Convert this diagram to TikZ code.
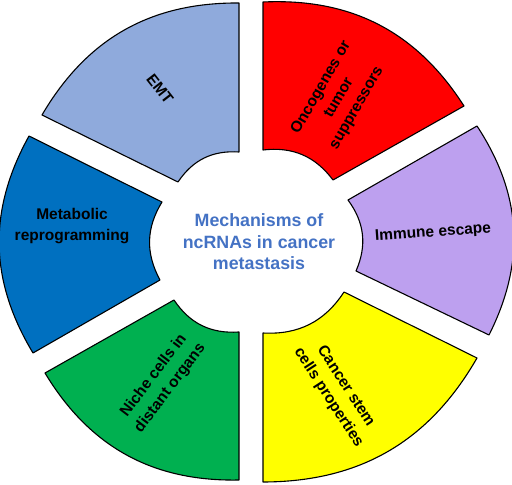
\documentclass[tikz,border=0pt]{standalone}
\usepackage{fontspec}
\setmainfont{Liberation Sans}
\definecolor{emtblue}{RGB}{143,170,220}
\definecolor{oncored}{RGB}{255,0,0}
\definecolor{immunepurple}{RGB}{189,160,239}
\definecolor{stemyellow}{RGB}{255,255,0}
\definecolor{nichegreen}{RGB}{0,176,80}
\definecolor{metablue}{RGB}{0,112,192}
\definecolor{titleblue}{RGB}{68,114,196}
\begin{document}
\begin{tikzpicture}[x=1pt, y=1pt,
    seg/.style={draw=black, line width=1.1pt, line join=round},
    lab/.style={font=\bfseries\fontsize{15.5}{20.5}\selectfont, align=center, text=black}]
    \useasboundingbox (0,0) rectangle (512,485);
    % EMT
    \draw[seg, fill=emtblue] (239,482) to[bend right=30] (42,370) -- (178,303)
        to[bend left=30] (239,333) -- cycle;
    \node[lab, rotate=-52] (emt) at (160,396) {EMT};
    % oncogenes
    \draw[seg, fill=oncored] (464,379) to[bend right=30] (263,483) -- (263,335)
        to[bend left=30] (333,305) -- cycle;
    \node[lab, rotate=60] (onco) at (339,387) {Oncogenes or\\tumor\\suppressors};
    % immune escape
    \draw[seg, fill=immunepurple] (489,150) to[bend right=30] (477,359) -- (348,285)
        to[bend left=30] (356,214) -- cycle;
    \node[lab, rotate=4] (immune) at (433,252) {Immune escape};
    % cancer stem cells
    \draw[seg, fill=stemyellow] (263,3) to[bend right=30] (477,127) -- (344,193)
        to[bend left=30] (263,152) -- cycle;
    \node[lab, rotate=-57] (stem) at (337,93) {Cancer stem\\cells properties};
    % niche cells
    \draw[seg, fill=nichegreen] (45,112) to[bend right=30] (239,5) -- (239,153)
        to[bend left=30] (174,185) -- cycle;
    \node[lab, rotate=53] (niche) at (162,103) {Niche cells in\\distant organs};
    % metabolic reprogramming
    \draw[seg, fill=metablue] (29,349) to[bend right=30] (33,132) -- (160,205)
        to[bend left=30] (162,283) -- cycle;
    \node[lab] (meta) at (72,259) {Metabolic\\reprogramming};
    % centre
    \node[font=\bfseries\fontsize{17.8}{21.5}\selectfont, align=center, text=titleblue]
        (title) at (259,243) {Mechanisms of\\ncRNAs in cancer\\metastasis};
\end{tikzpicture}
\end{document}
